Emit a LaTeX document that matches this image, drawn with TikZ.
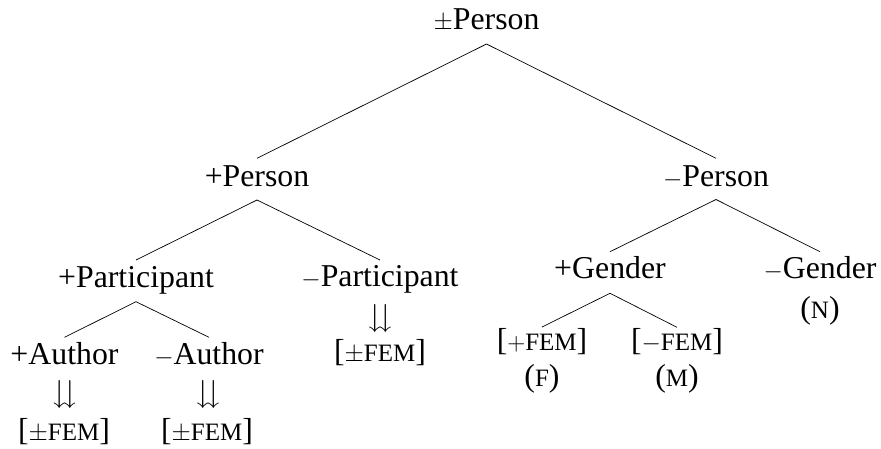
\documentclass[tikz,border=0pt]{standalone}
\usepackage{amssymb}
\usepackage{fontspec}
\setmainfont{Liberation Serif}
\newcommand{\smc}[1]{{\fontsize{25}{25}\selectfont #1}}
\newcommand{\fem}{\smc{FEM}}
\tikzset{
  lab/.style={anchor=base, inner sep=0pt, font=\fontsize{31.8}{36}\selectfont},
  edge/.style={line width=0.7pt},
}
\begin{document}
\begin{tikzpicture}[x=1pt, y=-1pt]
\useasboundingbox (0,0) rectangle (881,448);
\node[lab] (top) at (486.5,29.5) {$\pm$Person};
\node[lab] (pp) at (257,186.7) {+Person};
\node[lab] (mp) at (716,186.7) {$-$Person};
\node[lab] (ppart) at (136,287.3) {+Participant};
\node[lab] (mpart) at (380,286.7) {$-$Participant};
\node[lab] (pg) at (610,278.3) {+Gender};
\node[lab] (mg) at (820,278) {$-$Gender};
\node[lab] (pa) at (64.5,364.3) {+Author};
\node[lab] (ma) at (209,364.3) {$-$Author};
\node[lab] (paarr) at (64.5,402) {$\downdownarrows$};
\node[lab] (maarr) at (208,402) {$\downdownarrows$};
\node[lab] (mpartarr) at (380,326) {$\downdownarrows$};
\node[lab] (pafem) at (64,440.7) {[$\pm$\fem]};
\node[lab] (mafem) at (207,440.7) {[$\pm$\fem]};
\node[lab] (mpartfem) at (380,361) {[$\pm$\fem]};
\node[lab] (pfem) at (542,350) {[$+$\fem]};
\node[lab] (mfem) at (677,350) {[$-$\fem]};
\node[lab] (f) at (542,386.7) {(\smc{F})};
\node[lab] (m) at (677,386.7) {(\smc{M})};
\node[lab] (n) at (820,318) {(\smc{N})};
\draw[edge] ([yshift=-14.5pt]top.base) -- ([yshift=28.4pt]pp.base);
\draw[edge] ([yshift=-14.5pt]top.base) -- ([yshift=28.4pt]mp.base);
\draw[edge] ([yshift=-13.3pt]pp.base) -- ([yshift=27.3pt]ppart.base);
\draw[edge] ([yshift=-13.3pt]pp.base) -- ([yshift=26.7pt]mpart.base);
\draw[edge] ([yshift=-12.8pt]mp.base) -- ([yshift=26.6pt]pg.base);
\draw[edge] ([yshift=-12.8pt]mp.base) -- ([yshift=26.3pt]mg.base);
\draw[edge] ([yshift=-14.4pt]ppart.base) -- ([yshift=27pt]pa.base);
\draw[edge] ([yshift=-14.4pt]ppart.base) -- ([yshift=27pt]ma.base);
\draw[edge] ([yshift=-15pt]pg.base) -- ([yshift=23pt]pfem.base);
\draw[edge] ([yshift=-15pt]pg.base) -- ([yshift=22.7pt]mfem.base);
\end{tikzpicture}
\end{document}
